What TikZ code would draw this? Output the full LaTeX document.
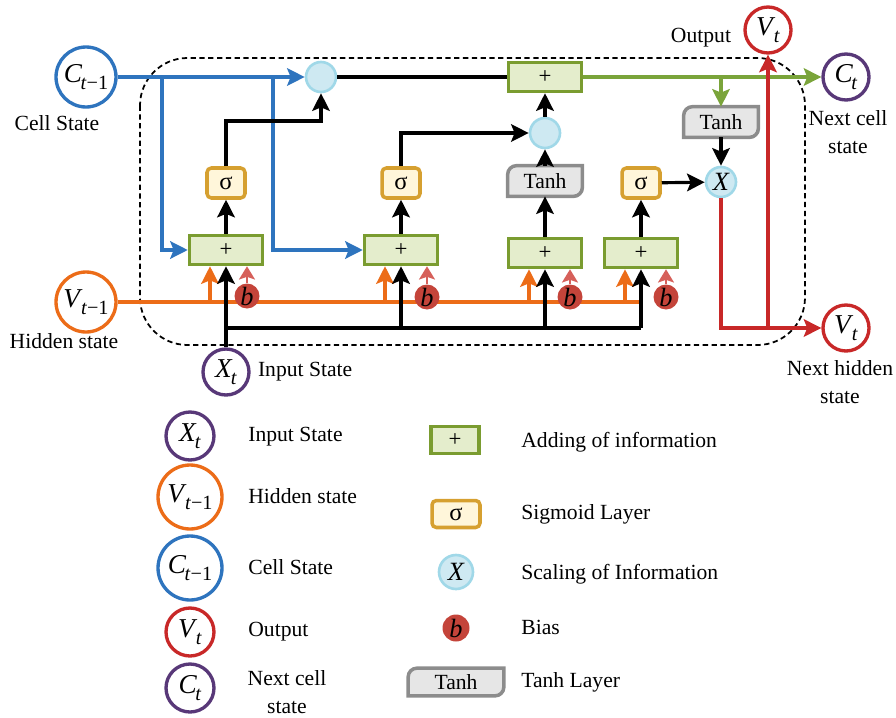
\documentclass[tikz,border=0pt]{standalone}
\usepackage{fontspec}
\setmainfont{Liberation Serif}
\usetikzlibrary{arrows.meta, positioning, backgrounds}
\definecolor{cellblue}{RGB}{46,116,190}
\definecolor{hidorange}{RGB}{236,108,24}
\definecolor{inpurple}{RGB}{88,56,120}
\definecolor{outred}{RGB}{200,40,40}
\definecolor{addgreen}{RGB}{122,156,48}
\definecolor{addfill}{RGB}{228,237,204}
\definecolor{sigline}{RGB}{214,160,48}
\definecolor{sigfill}{RGB}{255,246,218}
\definecolor{scaleline}{RGB}{160,216,232}
\definecolor{scalefill}{RGB}{206,233,242}
\definecolor{biasred}{RGB}{196,68,58}
\definecolor{biaspink}{RGB}{214,96,90}
\definecolor{tanhline}{RGB}{140,140,140}
\definecolor{tanhfill}{RGB}{230,230,230}
\definecolor{cellgreen}{RGB}{122,164,58}
\newcommand{\sv}[2]{\textit{#1}\kern-0.06em\raisebox{-0.6ex}{\fontsize{11.5}{11.5}\selectfont #2}}
\tikzset{%
    lbl/.style={inner sep=0pt, align=center, font=\fontsize{12.3}{15.5}\selectfont},
    state circ/.style={circle, draw, line width=1.9pt, fill=white, inner sep=0pt,
        minimum size=0.92cm, font=\fontsize{15.5}{15.5}\selectfont},
    big state/.style={state circ, minimum size=1.2cm},
    add box/.style={draw=addgreen, fill=addfill, line width=2pt, inner sep=0pt,
        minimum width=1.46cm, minimum height=0.58cm, font=\fontsize{13}{13}\selectfont},
    sig box/.style={draw=sigline, fill=sigfill, line width=2pt, rounded corners=2.5pt,
        inner sep=0pt, minimum width=0.76cm, minimum height=0.6cm,
        font=\fontsize{14}{14}\selectfont},
    tanh box/.style={inner sep=0pt, minimum width=1.48cm, minimum height=0.6cm,
        font=\fontsize{12.3}{12}\selectfont},
    tanh frame/.style={draw=tanhline, fill=tanhfill, line width=2pt},
    scale circ/.style={circle, draw=scaleline, fill=scalefill, line width=1.5pt,
        inner sep=0pt, minimum size=0.6cm, font=\fontsize{15}{15}\selectfont\itshape},
    bias circ/.style={circle, fill=biasred, inner sep=0pt, minimum size=0.5cm,
        font=\fontsize{15}{15}\selectfont\itshape},
    wire/.style={line width=1.8pt},
    flow/.style={-{Stealth[length=10pt, width=10pt, inset=2pt]}},
    bias flow/.style={biaspink, line width=1.5pt, -{Stealth[length=7.5pt, width=9pt, inset=1.5pt]}},
    cell border/.style={densely dashed, line width=1pt, rounded corners=0.95cm}
}
\begin{document}
\begin{tikzpicture}[x=0.02cm, y=-0.02cm]
\useasboundingbox (0,0) rectangle (896,717);
\draw[cell border] (140,58) rectangle (805,345);

\node[big state, draw=cellblue] (cprev) at (86,77) {\sv{C}{\textit{t}−1}};
\node[lbl] at (57,123) {Cell State};
\node[big state, draw=hidorange] (vprev) at (86,302) {\sv{V}{\textit{t}−1}};
\node[lbl] at (64,341) {Hidden state};
\node[state circ, draw=inpurple] (xt) at (226,372) {\sv{X}{\textit{t}}};
\node[lbl, right=0.14cm of xt] {Input State};
\node[state circ, draw=outred] (vout) at (768,30) {\sv{V}{\textit{t}}};
\node[lbl] at (701,38) {Output};
\node[state circ, draw=inpurple] (cnext) at (846,77) {\sv{C}{\textit{t}}};
\node[lbl] at (848,132) {Next cell\\state};
\node[state circ, draw=outred] (vnext) at (846,328) {\sv{V}{\textit{t}}};
\node[lbl] at (840,382) {Next hidden\\state};

\node[scale circ] (f1) at (321,77) {};
\node[add box] (cadd) at (545,77) {+};
\node[scale circ] (f2) at (545,133) {};
\node[tanh box] (tg) at (545,181) {Tanh};
\node[tanh box] (th2) at (721,122) {Tanh};
\node[scale circ] (xs) at (721,182) {X};
\node[sig box] (s1) at (226,183) {σ};
\node[sig box] (s2) at (401,183) {σ};
\node[sig box] (s3) at (641,183) {σ};
\node[add box] (a1) at (226,250) {+};
\node[add box] (a2) at (401,250) {+};
\node[add box] (a3) at (545,253) {+};
\node[add box] (a4) at (641,253) {+};

\coordinate (cs1) at (162,77);
\coordinate (cs2) at (273,77);
\coordinate (k1) at (321,121);
\coordinate (in0) at (226,328);

\draw[wire, cellblue, flow] (cprev.east) -- (f1.west);
\draw[wire, cellblue, flow] (cs1) |- (a1.west);
\draw[wire, cellblue, flow] (cs2) |- (a2.west);

\draw[wire, hidorange] (vprev.east) -- (vprev -| a4);
\foreach \b in {a1, a2, a3, a4}
    \draw[wire, hidorange, flow] ([xshift=-0.32cm]\b.south |- vprev) -- ([xshift=-0.32cm]\b.south);

\draw[wire, flow] (xt) -- (a1);
\draw[wire] (in0) -- (in0 -| a4);
\foreach \b in {a2, a3, a4}
    \draw[wire, flow] (in0 -| \b) -- (\b.south);

\node[bias circ] (b1) at (247,296) {b};
\node[bias circ] (b2) at (427,297) {b};
\node[bias circ] (b3) at (570,297) {b};
\node[bias circ] (b4) at (666,297) {b};
\foreach \b/\a in {b1/a1, b2/a2, b3/a3, b4/a4}
    \draw[bias flow] (\b.north) -- (\b.north |- \a.south);

\draw[wire, flow] (a1) -- (s1);
\draw[wire, flow] (a2) -- (s2);
\draw[wire, flow] (a3) -- (tg);
\draw[wire, flow] (a4) -- (s3);
\draw[wire, flow] (s1.north) |- (k1) -- (f1.south);
\draw[wire, flow] (s2.north) |- (f2.west);
\draw[wire, flow] (tg) -- (f2);
\draw[wire, flow] (f2) -- (cadd);
\draw[wire] (f1) -- (cadd);
\draw[wire, flow] (s3) -- (xs);
\draw[wire, flow] (th2) -- (xs);

\draw[wire, cellgreen, flow] (cadd.east) -- (cnext.west);
\draw[wire, cellgreen, flow] (cadd.east -| th2) -- (th2.north);
\draw[wire, outred, flow] (xs.south) |- (vnext.west);
\draw[wire, outred, flow] (vout.south |- vnext) -- (vout.south);

% legend
\node[state circ, draw=inpurple, minimum size=0.96cm] (lx) at (190,436) {\sv{X}{\textit{t}}};
\node[big state, draw=hidorange, minimum size=1.28cm] (lv) at (190,497) {\sv{V}{\textit{t}−1}};
\node[big state, draw=cellblue, minimum size=1.28cm] (lc) at (190,568) {\sv{C}{\textit{t}−1}};
\node[state circ, draw=outred, minimum size=0.96cm] (lo) at (190,632) {\sv{V}{\textit{t}}};
\node[state circ, draw=inpurple, minimum size=0.96cm] (ln) at (190,688) {\sv{C}{\textit{t}}};
\node[lbl, anchor=west] at (248,437) {Input State};
\node[lbl, anchor=west] at (248,496) {Hidden state};
\node[lbl, anchor=west] at (248,567) {Cell State};
\node[lbl, anchor=west] at (248,632) {Output};
\node[lbl] at (287,692) {Next cell\\state};

\node[add box, minimum width=0.96cm, minimum height=0.54cm] (ladd) at (455,440) {+};
\node[sig box, minimum width=0.96cm, minimum height=0.54cm] (lsig) at (456,514) {σ};
\node[scale circ, minimum size=0.68cm] (lscale) at (456,572) {X};
\node[bias circ, minimum size=0.54cm] (lbias) at (456,628) {b};
\node[tanh box, minimum width=1.9cm, minimum height=0.54cm] (ltanh) at (456,682) {Tanh};
\node[lbl, anchor=west] at (521,442) {Adding of information};
\node[lbl, anchor=west] at (521,514) {Sigmoid Layer};
\node[lbl, anchor=west] at (521,574) {Scaling of Information};
\node[lbl, anchor=west] at (521,627) {Bias};
\node[lbl, anchor=west] at (521,682) {Tanh Layer};

\begin{scope}[on background layer]
\foreach \t in {tg, th2, ltanh}
    \filldraw[tanh frame] (\t.south) -- (\t.south west) [rounded corners=5pt]
        -- (\t.north west) [sharp corners] -- (\t.north east) [rounded corners=5pt]
        -- (\t.south east) [sharp corners] -- cycle;
\end{scope}
\end{tikzpicture}
\end{document}
